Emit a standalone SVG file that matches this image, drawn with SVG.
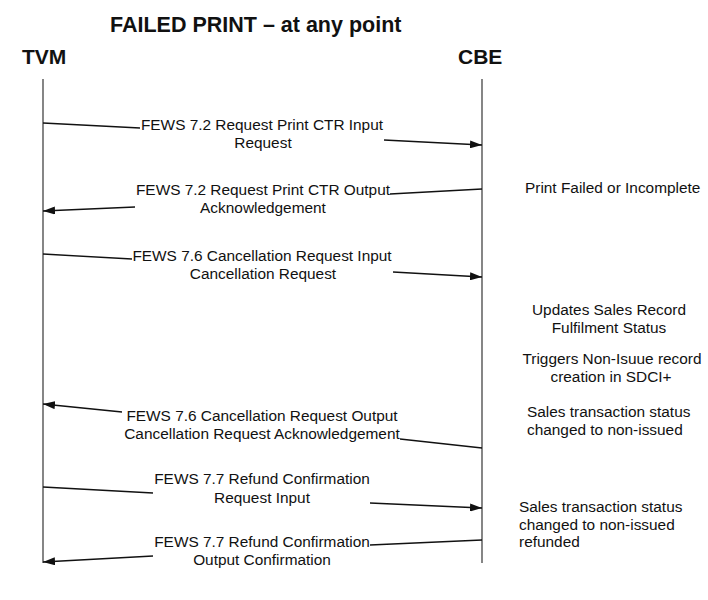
<svg xmlns="http://www.w3.org/2000/svg" width="708" height="600" viewBox="0 0 708 600">
<style>
text{font-family:"Liberation Sans",Arial,sans-serif;fill:#111}
.title{font-size:21.5px;font-weight:bold}
.actor{font-size:21px;font-weight:bold}
.msg{font-size:15.4px;text-anchor:middle}
.note{font-size:15.4px}
.notec{font-size:15.4px;text-anchor:middle}
.life{stroke:#444;stroke-width:1.3;fill:none}
.line{stroke:#111;stroke-width:1.3;fill:none}
.arr{stroke:#111;stroke-width:1.3;fill:none;marker-end:url(#ah)}
</style>
<defs>
<marker id="ah" viewBox="0 0 12 8" refX="12" refY="4" markerWidth="12" markerHeight="8" markerUnits="userSpaceOnUse" orient="auto">
<path d="M0,0 L12,4 L0,8 Z" fill="#111"/>
</marker>
</defs>
<rect width="708" height="600" fill="#fff"/>
<text class="title" x="110" y="32">FAILED PRINT – at any point</text>
<g id="tvm">
<text class="actor" x="22" y="64">TVM</text>
<line class="life" x1="43" y1="79" x2="43" y2="563"/>
</g>
<g id="cbe">
<text class="actor" x="458" y="64">CBE</text>
<line class="life" x1="482" y1="79" x2="482" y2="563"/>
</g>
<g id="connectors">
<line class="line" x1="43" y1="123" x2="140" y2="128"/>
<line class="arr" x1="384" y1="140" x2="482" y2="145"/>
<line class="line" x1="482" y1="189" x2="390" y2="194"/>
<line class="arr" x1="135" y1="207" x2="43" y2="211"/>
<line class="line" x1="43" y1="254" x2="132" y2="259"/>
<line class="arr" x1="393" y1="272" x2="482" y2="277"/>
<line class="line" x1="482" y1="448" x2="400" y2="439"/>
<line class="arr" x1="122" y1="412" x2="43" y2="404"/>
<line class="line" x1="43" y1="487" x2="153" y2="493"/>
<line class="arr" x1="370" y1="503" x2="482" y2="508"/>
<line class="line" x1="482" y1="540" x2="370" y2="545"/>
<line class="arr" x1="153" y1="556" x2="43" y2="562"/>
</g>
<g id="msg1">
<text class="msg" x="262" y="130">FEWS 7.2 Request Print CTR Input</text>
<text class="msg" x="263" y="148">Request</text>
</g>
<g id="msg2">
<text class="msg" x="263" y="195">FEWS 7.2 Request Print CTR Output</text>
<text class="msg" x="263" y="213">Acknowledgement</text>
</g>
<g id="msg3">
<text class="msg" x="262" y="261">FEWS 7.6 Cancellation Request Input</text>
<text class="msg" x="263" y="279">Cancellation Request</text>
</g>
<g id="msg4">
<text class="msg" x="262" y="421">FEWS 7.6 Cancellation Request Output</text>
<text class="msg" x="262" y="439">Cancellation Request Acknowledgement</text>
</g>
<g id="msg5">
<text class="msg" x="262" y="484">FEWS 7.7 Refund Confirmation</text>
<text class="msg" x="262" y="503">Request Input</text>
</g>
<g id="msg6">
<text class="msg" x="262" y="547">FEWS 7.7 Refund Confirmation</text>
<text class="msg" x="262" y="565">Output Confirmation</text>
</g>
<g id="note1">
<text class="note" x="525" y="193">Print Failed or Incomplete</text>
</g>
<g id="note2">
<text class="notec" x="609" y="315">Updates Sales Record</text>
<text class="notec" x="609" y="333">Fulfilment Status</text>
</g>
<g id="note3">
<text class="notec" x="612" y="364">Triggers Non-Isuue record</text>
<text class="notec" x="611" y="382">creation in SDCI+</text>
</g>
<g id="note4">
<text class="note" x="527" y="417">Sales transaction status</text>
<text class="note" x="527" y="435">changed to non-issued</text>
</g>
<g id="note5">
<text class="note" x="519" y="512">Sales transaction status</text>
<text class="note" x="519" y="530">changed to non-issued</text>
<text class="note" x="519" y="547">refunded</text>
</g>
</svg>
